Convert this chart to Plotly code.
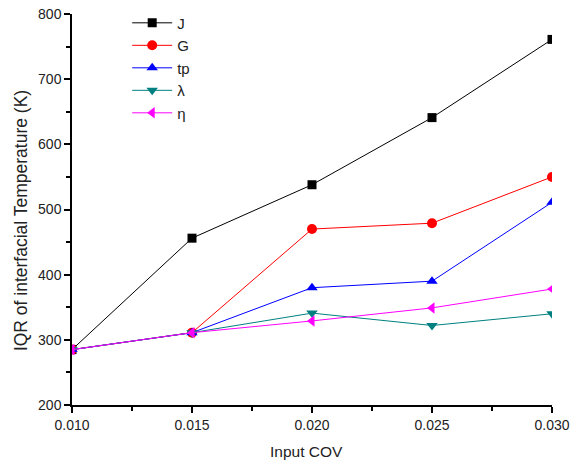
import plotly.graph_objects as go

cov = [0.010, 0.015, 0.020, 0.025, 0.030]
J = [285, 456, 538, 641, 761]
G = [285, 311, 470, 479, 550]
tp = [285, 311, 380, 390, 511]
lam = [285, 311, 341, 322, 340]
eta = [285, 311, 329, 349, 378]

names = ["J", "G", "tp", "λ", "η"]
series = [J, G, tp, lam, eta]
colors = ["#000000", "#ff0000", "#0000ff", "#008080", "#ff00ff"]
symbols = ["square", "circle", "triangle-up", "triangle-down", "triangle-left"]
sizes = [9, 10, 10, 10, 10]

FONT = "Liberation Sans, Arial, sans-serif"

fig = go.Figure()
for n, s, c, sym, sz in zip(names, series, colors, symbols, sizes):
    fig.add_trace(go.Scatter(
        x=cov, y=s, name=n, mode="lines+markers",
        line=dict(color=c, width=1),
        marker=dict(symbol=sym, size=sz, color=c),
    ))

axis_common = dict(
    showgrid=False, zeroline=False, showline=True, linecolor="black", linewidth=1.5,
    ticks="outside", ticklen=6, tickwidth=1.5, tickcolor="black",
    tickfont=dict(family=FONT, size=14, color="#222"),
    mirror=False, automargin=False, ticklabeloverflow="allow",
)
fig.update_xaxes(range=[0.010, 0.030], tickvals=cov, ticktext=["0.010", "0.015", "0.020", "0.025", "0.030"],
                 minor=dict(tickvals=[0.0125, 0.0175, 0.0225, 0.0275], ticks="outside", ticklen=4, tickcolor="black", tickwidth=1.5),
                 **axis_common)
fig.update_yaxes(range=[200, 800], dtick=100, tick0=200,
                 minor=dict(dtick=50, ticks="outside", ticklen=4, tickcolor="black", tickwidth=1.5),
                 **axis_common)

fig.add_annotation(text="Input COV", xref="paper", yref="paper", x=0.489, y=-0.118,
                   xanchor="center", yanchor="middle", showarrow=False,
                   font=dict(family=FONT, size=15.5, color="#222"))
fig.add_annotation(text="IQR of interfacial Temperature (K)", xref="paper", yref="paper",
                   x=-0.106, y=0.4706, xanchor="center", yanchor="middle", textangle=-90,
                   showarrow=False, font=dict(family=FONT, size=17.5, color="#222"))

fig.update_layout(
    width=572, height=468,
    margin=dict(l=72, r=20, t=14, b=63, autoexpand=False),
    plot_bgcolor="white", paper_bgcolor="white",
    showlegend=True,
    legend=dict(x=0.115, y=1.019, xanchor="left", yanchor="top", bgcolor="rgba(0,0,0,0)",
                font=dict(family=FONT, size=15, color="#222"),
                tracegroupgap=0, itemwidth=40),
)
fig.write_html("out.html", config={"displayModeBar": False},
               post_script="document.body.style.margin='0';document.body.style.padding='0';")
